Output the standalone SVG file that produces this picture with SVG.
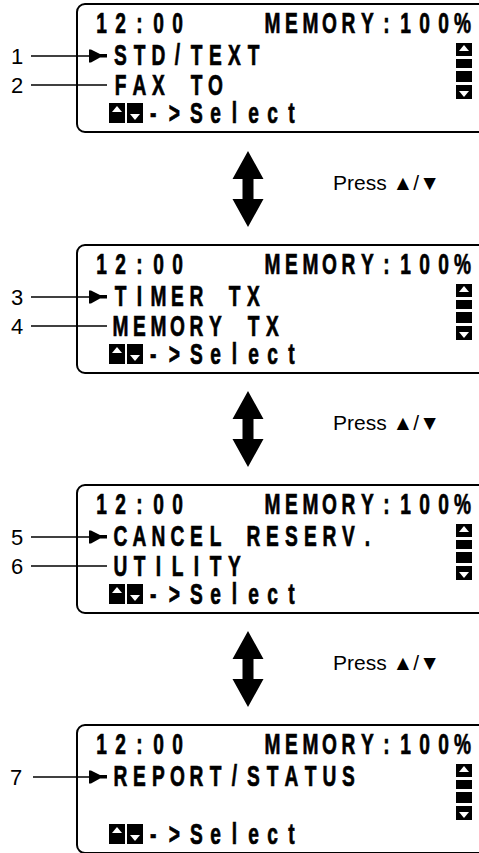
<svg xmlns="http://www.w3.org/2000/svg" xmlns:xlink="http://www.w3.org/1999/xlink" width="479" height="853" viewBox="0 0 479 853">
<style>
.frame{fill:none;stroke:#000;stroke-width:2}
.lcd{font-family:"Liberation Sans",Arial,sans-serif;font-weight:bold;font-size:29px;fill:#000;stroke:#000;stroke-width:0.7;text-anchor:middle}
.lbl{font-family:"Liberation Sans",Arial,sans-serif;font-size:22px;fill:#000;text-anchor:middle}
.press{font-family:"Liberation Sans",Arial,sans-serif;font-size:21px;fill:#000}
.lead{stroke:#000;stroke-width:1.3;fill:none}
.blk{fill:#000}
.wt{fill:#fff}
</style>
<defs>
<path id="dbl" d="M0,-38 L15.5,-10 L5.5,-10 L5.5,10 L15.5,10 L0,38 L-15.5,10 L-5.5,10 L-5.5,-10 L-15.5,-10 Z" fill="#000"/>
<path id="frm" class="frame" d="M480,0 H85 A8,8 0 0 0 77,8 V120 A8,8 0 0 0 85,128 H480"/>
<path id="ptr" class="blk" d="M89,-6.5 H91 L100,-2 H107 V1.5 H100 L91,6.5 H89 Z"/>
<g id="scroll">
<rect class="blk" x="456" y="39" width="16" height="13"/>
<path class="wt" d="M459,47 L464,41 L469,47 Z"/>
<rect class="blk" x="456" y="55" width="16" height="9"/>
<rect class="blk" x="456" y="67" width="16" height="11"/>
<rect class="blk" x="456" y="81" width="16" height="14"/>
<path class="wt" d="M459,87 L464,93 L469,87 Z"/>
</g>
<g id="selicon">
<rect class="blk" x="109" y="99" width="16" height="20"/>
<path class="wt" d="M112,108 L117,102 L122,108 Z"/>
<rect class="blk" x="127" y="99" width="16" height="20"/>
<path class="wt" d="M130,110 L135,116 L140,110 Z"/>
</g>
</defs>

<g id="connectors">
<use xlink:href="#dbl" transform="translate(248,189)"/>
<use xlink:href="#dbl" transform="translate(248,429)"/>
<use xlink:href="#dbl" transform="translate(248,669)"/>
</g>

<g id="press-labels">
<text class="press" x="333" y="190">Press ▲/▼</text>
<text class="press" x="333" y="430">Press ▲/▼</text>
<text class="press" x="333" y="670">Press ▲/▼</text>
</g>

<g id="screen1" transform="translate(0,4)">
<use xlink:href="#frm"/>
<use xlink:href="#scroll"/>
<use xlink:href="#selicon"/>
<use xlink:href="#ptr" transform="translate(0,52)"/>
<line class="lead" x1="31" y1="52" x2="89" y2="52"/>
<line class="lead" x1="31" y1="81" x2="107" y2="81"/>
<text class="lbl" x="17" y="60">1</text>
<text class="lbl" x="17" y="89">2</text>
<g transform="scale(0.66,1)">
<text class="lcd" x="153.79 182.58 211.36 240.15 268.94" y="29">12:00</text>
<text class="lcd" x="412.88 441.67 470.45 499.24 528.03 556.82 585.61 614.39 643.18 671.97 700.76" y="29">MEMORY:100%</text>
<text class="lcd" x="182.58 211.36 240.15 268.94 297.73 326.52 355.30 384.09" y="61">STD/TEXT</text>
<text class="lcd" x="182.58 211.36 240.15 268.94 297.73 326.52" y="91">FAX TO</text>
<text class="lcd" x="232 264 297.73 326.52 355.30 384.09 412.88 441.67" y="119">-&gt;Select</text>
</g>
</g>

<g id="screen2" transform="translate(0,245)">
<use xlink:href="#frm"/>
<use xlink:href="#scroll"/>
<use xlink:href="#selicon"/>
<use xlink:href="#ptr" transform="translate(0,52)"/>
<line class="lead" x1="31" y1="52" x2="89" y2="52"/>
<line class="lead" x1="31" y1="81" x2="107" y2="81"/>
<text class="lbl" x="17" y="60">3</text>
<text class="lbl" x="17" y="89">4</text>
<g transform="scale(0.66,1)">
<text class="lcd" x="153.79 182.58 211.36 240.15 268.94" y="29">12:00</text>
<text class="lcd" x="412.88 441.67 470.45 499.24 528.03 556.82 585.61 614.39 643.18 671.97 700.76" y="29">MEMORY:100%</text>
<text class="lcd" x="182.58 211.36 240.15 268.94 297.73 326.52 355.30 384.09" y="61">TIMER TX</text>
<text class="lcd" x="182.58 211.36 240.15 268.94 297.73 326.52 355.30 384.09 412.88" y="91">MEMORY TX</text>
<text class="lcd" x="232 264 297.73 326.52 355.30 384.09 412.88 441.67" y="119">-&gt;Select</text>
</g>
</g>

<g id="screen3" transform="translate(0,485)">
<use xlink:href="#frm"/>
<use xlink:href="#scroll"/>
<use xlink:href="#selicon"/>
<use xlink:href="#ptr" transform="translate(0,52)"/>
<line class="lead" x1="31" y1="52" x2="89" y2="52"/>
<line class="lead" x1="31" y1="81" x2="107" y2="81"/>
<text class="lbl" x="17" y="60">5</text>
<text class="lbl" x="17" y="89">6</text>
<g transform="scale(0.66,1)">
<text class="lcd" x="153.79 182.58 211.36 240.15 268.94" y="29">12:00</text>
<text class="lcd" x="412.88 441.67 470.45 499.24 528.03 556.82 585.61 614.39 643.18 671.97 700.76" y="29">MEMORY:100%</text>
<text class="lcd" x="182.58 211.36 240.15 268.94 297.73 326.52 355.30 384.09 412.88 441.67 470.45 499.24 528.03 556.82" y="61">CANCEL RESERV.</text>
<text class="lcd" x="182.58 211.36 240.15 268.94 297.73 326.52 355.30" y="91">UTILITY</text>
<text class="lcd" x="232 264 297.73 326.52 355.30 384.09 412.88 441.67" y="119">-&gt;Select</text>
</g>
</g>

<g id="screen4" transform="translate(0,725)">
<use xlink:href="#frm"/>
<use xlink:href="#scroll"/>
<use xlink:href="#selicon"/>
<use xlink:href="#ptr" transform="translate(0,52)"/>
<line class="lead" x1="33" y1="52" x2="89" y2="52"/>
<text class="lbl" x="16" y="60">7</text>
<g transform="scale(0.66,1)">
<text class="lcd" x="153.79 182.58 211.36 240.15 268.94" y="29">12:00</text>
<text class="lcd" x="412.88 441.67 470.45 499.24 528.03 556.82 585.61 614.39 643.18 671.97 700.76" y="29">MEMORY:100%</text>
<text class="lcd" x="182.58 211.36 240.15 268.94 297.73 326.52 355.30 384.09 412.88 441.67 470.45 499.24 528.03" y="61">REPORT/STATUS</text>
<text class="lcd" x="232 264 297.73 326.52 355.30 384.09 412.88 441.67" y="119">-&gt;Select</text>
</g>
</g>
</svg>
